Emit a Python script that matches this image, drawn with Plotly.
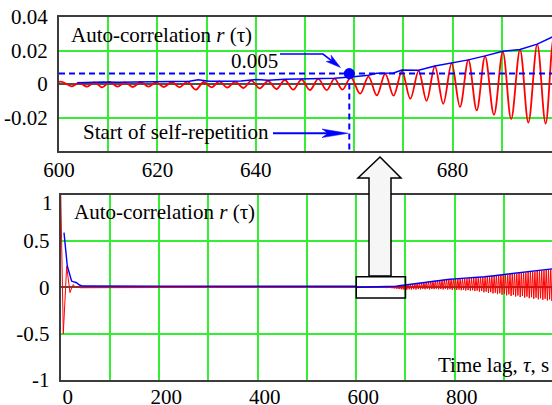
import plotly.graph_objects as go

# ------------------------------------------------------------------ data
# red: auto-correlation r(tau) ; initial decay and flat part (tau in s)
red_tau_start = [0.0, 5.2, 12.0, 15.5, 18.8, 22.5, 25.5, 29.0, 33.0, 40.0, 150.0, 300.0, 450.0, 595.0]
red_val_start = [1.0, -0.5, 0.228, 0.05, -0.057, 0.0, 0.03, 0.0, 0.01, -0.004, -0.004, -0.004, -0.004, -0.002]

# red: peaks / troughs read in the 600-700 s window
red_tau_zoom = [598.0, 600.4, 602.6, 604.1, 605.7, 607.2, 608.8, 610.3, 611.9, 613.4,
                615.0, 616.6, 618.2, 619.7, 621.3, 622.9, 624.5, 626.1, 627.8, 629.4,
                631.0, 632.6, 634.2, 635.8, 637.5, 639.1, 640.8, 642.5, 644.2, 645.9,
                647.6, 649.3, 651.0, 652.7, 654.4, 656.0, 657.6, 659.3, 661.2, 662.9,
                664.6, 666.3, 668.0, 669.7, 671.4, 673.1, 674.7, 676.4, 678.1, 679.8,
                681.5, 683.2, 684.9, 686.6, 688.4, 690.2, 691.9, 693.7, 695.4, 697.2,
                698.9, 700.6]
red_val_zoom = [-0.0010, 0.0014, -0.0014, 0.0008, -0.0016, 0.0010, -0.0020, 0.0012, -0.0016, 0.0010,
                -0.0018, 0.0012, -0.0016, 0.0010, -0.0018, 0.0012, -0.0020, 0.0014, -0.0034, 0.0012,
                -0.0020, 0.0016, -0.0022, 0.0014, -0.0024, 0.0020, -0.0026, 0.0018, -0.0030, 0.0024,
                -0.0034, 0.0026, -0.0036, 0.0030, -0.0036, 0.0032, -0.0034, 0.0040, -0.0058, 0.0044,
                -0.0068, 0.0060, -0.0070, 0.0076, -0.0088, 0.0078, -0.0100, 0.0106, -0.0118, 0.0124,
                -0.0136, 0.0144, -0.0157, 0.0165, -0.0184, 0.0192, -0.0210, 0.0205, -0.0230, 0.0236,
                -0.0236, 0.0280]

# red: peaks and troughs of the growing oscillation 700-1000 s
red_peak_tau = [705.2, 709.8, 714.4, 719.0, 723.6, 728.2, 732.8, 737.4, 742.0, 746.6,
                751.2, 755.8, 760.4, 765.0, 769.6, 774.2, 778.8, 783.4, 788.0, 792.6,
                797.2, 801.8, 806.4, 811.0, 815.6, 820.2, 824.8, 829.4, 834.0, 838.6,
                843.2, 847.8, 852.4, 857.0, 861.6, 866.2, 870.8, 875.4, 880.0, 884.6,
                889.2, 893.8, 898.4, 903.0, 907.6, 912.2, 916.8, 921.4, 926.0, 930.6,
                935.2, 939.8, 944.4, 949.0, 953.6, 958.2, 962.8, 967.4, 972.0, 976.6,
                981.2, 985.8, 990.4, 995.0, 999.6]
red_peak_val = [0.030, 0.032, 0.036, 0.040, 0.041, 0.048, 0.049, 0.055, 0.056, 0.062,
                0.065, 0.070, 0.071, 0.076, 0.077, 0.081, 0.082, 0.085, 0.086, 0.088,
                0.088, 0.091, 0.090, 0.094, 0.093, 0.096, 0.096, 0.100, 0.099, 0.103,
                0.103, 0.107, 0.107, 0.112, 0.111, 0.117, 0.116, 0.122, 0.122, 0.128,
                0.127, 0.134, 0.133, 0.139, 0.138, 0.145, 0.144, 0.150, 0.149, 0.156,
                0.155, 0.161, 0.160, 0.167, 0.166, 0.172, 0.171, 0.178, 0.177, 0.184,
                0.183, 0.190, 0.189, 0.196, 0.199]
red_trough_tau = [702.9, 707.5, 712.1, 716.7, 721.3, 725.9, 730.5, 735.1, 739.7, 744.3,
                  748.9, 753.5, 758.1, 762.7, 767.3, 771.9, 776.5, 781.1, 785.7, 790.3,
                  794.9, 799.5, 804.1, 808.7, 813.3, 817.9, 822.5, 827.1, 831.7, 836.3,
                  840.9, 845.5, 850.1, 854.7, 859.3, 863.9, 868.5, 873.1, 877.7, 882.3,
                  886.9, 891.5, 896.1, 900.7, 905.3, 909.9, 914.5, 919.1, 923.7, 928.3,
                  932.9, 937.5, 942.1, 946.7, 951.3, 955.9, 960.5, 965.1, 969.7, 974.3,
                  978.9, 983.5, 988.1, 992.7, 997.3]
red_trough_val = [-0.025, -0.022, -0.024, -0.020, -0.023, -0.019, -0.022, -0.018, -0.021, -0.017,
                  -0.022, -0.018, -0.020, -0.016, -0.021, -0.019, -0.023, -0.018, -0.024, -0.020,
                  -0.026, -0.022, -0.028, -0.024, -0.031, -0.027, -0.033, -0.029, -0.036, -0.031,
                  -0.040, -0.035, -0.046, -0.040, -0.053, -0.046, -0.060, -0.052, -0.066, -0.058,
                  -0.073, -0.064, -0.080, -0.070, -0.087, -0.076, -0.093, -0.082, -0.099, -0.088,
                  -0.105, -0.094, -0.111, -0.100, -0.117, -0.106, -0.123, -0.112, -0.129, -0.118,
                  -0.135, -0.124, -0.141, -0.130, -0.147]

# blue: envelope of r(tau)
blue_tau_start = [6.6, 13.3, 22.0, 32.0, 38.0, 45.0, 200.0, 400.0, 598.0]
blue_val_start = [0.59, 0.23, 0.068, 0.05, 0.025, 0.014, 0.013, 0.013, 0.012]
blue_tau_zoom = [603.7, 606.0, 609.0, 612.0, 616.0, 620.0, 624.0, 626.5, 628.3, 630.5,
                 634.0, 637.0, 640.2, 642.5, 645.9, 649.3, 652.7, 656.0, 659.3, 662.9,
                 664.6, 668.0, 669.7, 673.1, 676.4, 679.8, 683.2, 686.6, 690.2, 693.7,
                 697.2, 700.6]
blue_val_zoom = [0.0008, 0.0010, 0.0012, 0.0010, 0.0012, 0.0011, 0.0013, 0.0016, 0.0026, 0.0016,
                 0.0017, 0.0018, 0.0027, 0.0022, 0.0028, 0.0030, 0.0031, 0.0034, 0.0042, 0.0052,
                 0.0064, 0.0066, 0.0084, 0.0082, 0.0108, 0.0126, 0.0144, 0.0168, 0.0196, 0.0206,
                 0.0238, 0.0285]
blue_tau_band = [710.0, 720.0, 730.0, 740.0, 750.0, 760.0, 770.0, 780.0, 790.0, 800.0,
                 820.0, 840.0, 860.0, 880.0, 900.0, 920.0, 940.0, 960.0, 980.0, 1000.0]
blue_val_band = [0.034, 0.042, 0.050, 0.058, 0.066, 0.074, 0.080, 0.085, 0.088, 0.091,
                 0.097, 0.104, 0.114, 0.126, 0.139, 0.150, 0.162, 0.175, 0.188, 0.201]

threshold = 0.0062          # dashed level (labelled 0.005)
threshold_label = "0.005"
repetition_start = 659.0    # start of self-repetition, s

top_x_range = [600, 700.2]
top_y_range = [-0.04, 0.04]
bot_x_range = [0, 997.5]
bot_y_range = [-1, 1]

top_x_ticks = [600, 610, 620, 630, 640, 650, 660, 670, 680, 690, 700]
top_x_text = ["600", "", "620", "", "640", "", "", "", "680", "", ""]
top_y_ticks = [-0.04, -0.02, 0, 0.02, 0.04]
top_y_text = ["", "-0.02", "0", "0.02", "0.04"]
bot_x_ticks = [0, 100, 200, 300, 400, 500, 600, 700, 800, 900]
bot_x_text = ["0", "", "200", "", "400", "", "600", "", "800", ""]
bot_y_ticks = [-1, -0.5, 0, 0.5, 1]
bot_y_text = ["-1", "-0.5", "0", "0.5", ""]

# ------------------------------------------------------------------ assemble series
band = sorted(zip(red_peak_tau + red_trough_tau, red_peak_val + red_trough_val))
red_tau = red_tau_start + red_tau_zoom + [b[0] for b in band]
red_val = red_val_start + red_val_zoom + [b[1] for b in band]
blue_tau_bot = blue_tau_start + blue_tau_zoom + blue_tau_band
blue_val_bot = blue_val_start + blue_val_zoom + blue_val_band

# ------------------------------------------------------------------ layout helpers
W, H = 552, 405
ML, MT, MB = 59, 17, 25
PW = W - ML
PH = H - MT - MB


def px(x):
    return (x - ML) / PW


def py(y):
    return (H - MB - y) / PH


def path(points, close=False):
    s = "M " + " L ".join(f"{px(a):.5f},{py(b):.5f}" for a, b in points)
    return s + (" Z" if close else "")


def arrowhead(tail, tip, length, half_w, notch):
    dx, dy = tip[0] - tail[0], tip[1] - tail[1]
    n = (dx * dx + dy * dy) ** 0.5
    ux, uy = dx / n, dy / n
    nx, ny = -uy, ux
    bx, by = tip[0] - length * ux, tip[1] - length * uy
    cx, cy = tip[0] - (length - notch) * ux, tip[1] - (length - notch) * uy
    return [tip, (bx + half_w * nx, by + half_w * ny), (cx, cy), (bx - half_w * nx, by - half_w * ny)], (cx, cy)


RED = "#ff0000"
BLUE = "#0000ff"
GREEN = "#33ee33"
AXIS = "#3c3c3c"
FONT = "Liberation Serif, Times New Roman, serif"
font = dict(family=FONT, size=21, color="black")

fig = go.Figure()

# bottom panel
fig.add_trace(go.Scatter(x=red_tau, y=red_val, mode="lines", line=dict(color=RED, width=1.0),
                         xaxis="x2", yaxis="y2", showlegend=False))
fig.add_trace(go.Scatter(x=blue_tau_bot, y=blue_val_bot, mode="lines", line=dict(color=BLUE, width=1.4),
                         xaxis="x2", yaxis="y2", showlegend=False))
# top panel
fig.add_trace(go.Scatter(x=red_tau, y=red_val, mode="lines", line=dict(color=RED, width=1.8, shape="spline"),
                         xaxis="x", yaxis="y", showlegend=False))
fig.add_trace(go.Scatter(x=blue_tau_zoom + blue_tau_band, y=blue_val_zoom + blue_val_band, mode="lines",
                         line=dict(color=BLUE, width=1.5), xaxis="x", yaxis="y", showlegend=False))
fig.add_trace(go.Scatter(x=[repetition_start, repetition_start], y=[threshold, top_y_range[0]], mode="lines",
                         line=dict(color=BLUE, width=2, dash="6px,4px"), xaxis="x", yaxis="y", showlegend=False))
fig.add_trace(go.Scatter(x=[repetition_start], y=[threshold], mode="markers",
                         marker=dict(color=BLUE, size=11), xaxis="x", yaxis="y", showlegend=False))

axis_common = dict(showgrid=True, gridcolor=GREEN, gridwidth=1.5, showline=True, linecolor=AXIS,
                   linewidth=2, ticks="", tickfont=font, automargin=False)

fig.update_layout(
    width=W, height=H, margin=dict(l=ML, r=0, t=MT, b=MB),
    font=font,
    paper_bgcolor="white", plot_bgcolor="white",
    xaxis=dict(domain=[0, 1], anchor="y", range=top_x_range, tickmode="array", tickvals=top_x_ticks,
               ticktext=top_x_text, mirror=True, zeroline=False, ticklabelstandoff=-1, **axis_common),
    yaxis=dict(domain=[py(151), 1], anchor="x", range=top_y_range, tickmode="array", tickvals=top_y_ticks,
               ticktext=top_y_text, zeroline=True, zerolinecolor="#505050", zerolinewidth=2,
               ticklabelstandoff=5, **axis_common),
    xaxis2=dict(domain=[px(60.75), 1], anchor="y2", range=bot_x_range, tickmode="array", tickvals=bot_x_ticks,
                ticktext=bot_x_text, mirror=True, zeroline=False, ticklabelshift=7, ticklabelstandoff=-3,
                **axis_common),
    yaxis2=dict(domain=[0, py(194.7)], anchor="x2", range=bot_y_range, tickmode="array", tickvals=bot_y_ticks,
                ticktext=bot_y_text, zeroline=True, zerolinecolor="#505050", zerolinewidth=2,
                ticklabelstandoff=5, **axis_common),
)

shapes = []
# white boxes behind labels
for (x0, y0, x1, y1) in [(60, 18, 254, 47), (224, 47, 280, 70), (80, 119, 272, 143),
                         (62, 196, 256, 223), (433, 352, 552, 379)]:
    shapes.append(dict(type="rect", xref="paper", yref="paper", x0=px(x0), x1=px(x1), y0=py(y1), y1=py(y0),
                       fillcolor="white", line=dict(width=0), layer="between"))
# threshold dashed line across the top panel
shapes.append(dict(type="line", xref="x domain", yref="y", x0=0, x1=1, y0=threshold, y1=threshold,
                   line=dict(color=BLUE, width=2, dash="6px,4px")))
# zoom-window rectangle in the bottom panel
shapes.append(dict(type="rect", xref="x2", yref="y2", x0=top_x_range[0], x1=700, y0=-0.115, y1=0.115,
                   line=dict(color="black", width=1.5), fillcolor="rgba(0,0,0,0)", layer="above"))
# big outline arrow
shapes.append(dict(type="path", xref="paper", yref="paper", layer="above",
                   path=path([(380, 157), (401, 178), (391, 178), (391, 276), (369, 276), (369, 178), (358, 178)],
                             close=True),
                   fillcolor="#f6f6f6", line=dict(color="black", width=1.5)))
# arrow from "0.005"
head, base = arrowhead((323, 54), (340.5, 67.5), 15, 4, 4)
shapes.append(dict(type="path", xref="paper", yref="paper", path=path([(280, 54), (323, 54), base]),
                   line=dict(color=BLUE, width=1.6)))
shapes.append(dict(type="path", xref="paper", yref="paper", path=path(head, close=True),
                   fillcolor=BLUE, line=dict(color=BLUE, width=0.5)))
# arrow from "Start of self-repetition"
head, base = arrowhead((273, 133.3), (348, 133.3), 26, 4.3, 6)
shapes.append(dict(type="path", xref="paper", yref="paper", path=path([(273, 133.3), base]),
                   line=dict(color=BLUE, width=2)))
shapes.append(dict(type="path", xref="paper", yref="paper", path=path(head, close=True),
                   fillcolor=BLUE, line=dict(color=BLUE, width=0.5)))
fig.update_layout(shapes=shapes)

ann = [
    dict(text="Auto-correlation <i>r</i> (τ)", x=px(70), y=py(35), xanchor="left"),
    dict(text="Auto-correlation <i>r</i> (τ)", x=px(72.5), y=py(212), xanchor="left"),
    dict(text=threshold_label, x=px(279), y=py(61), xanchor="right"),
    dict(text="Start of self-repetition", x=px(82), y=py(131.5), xanchor="left"),
    dict(text="Time lag, <i>τ</i>, s", x=px(550), y=py(364.5), xanchor="right"),
    dict(text="1", x=px(54), y=py(202.5), xanchor="right"),
]
for a in ann:
    a.update(xref="paper", yref="paper", yanchor="middle", showarrow=False, font=font, borderpad=0)
fig.update_layout(annotations=ann)

fig.write_html("out.html")
